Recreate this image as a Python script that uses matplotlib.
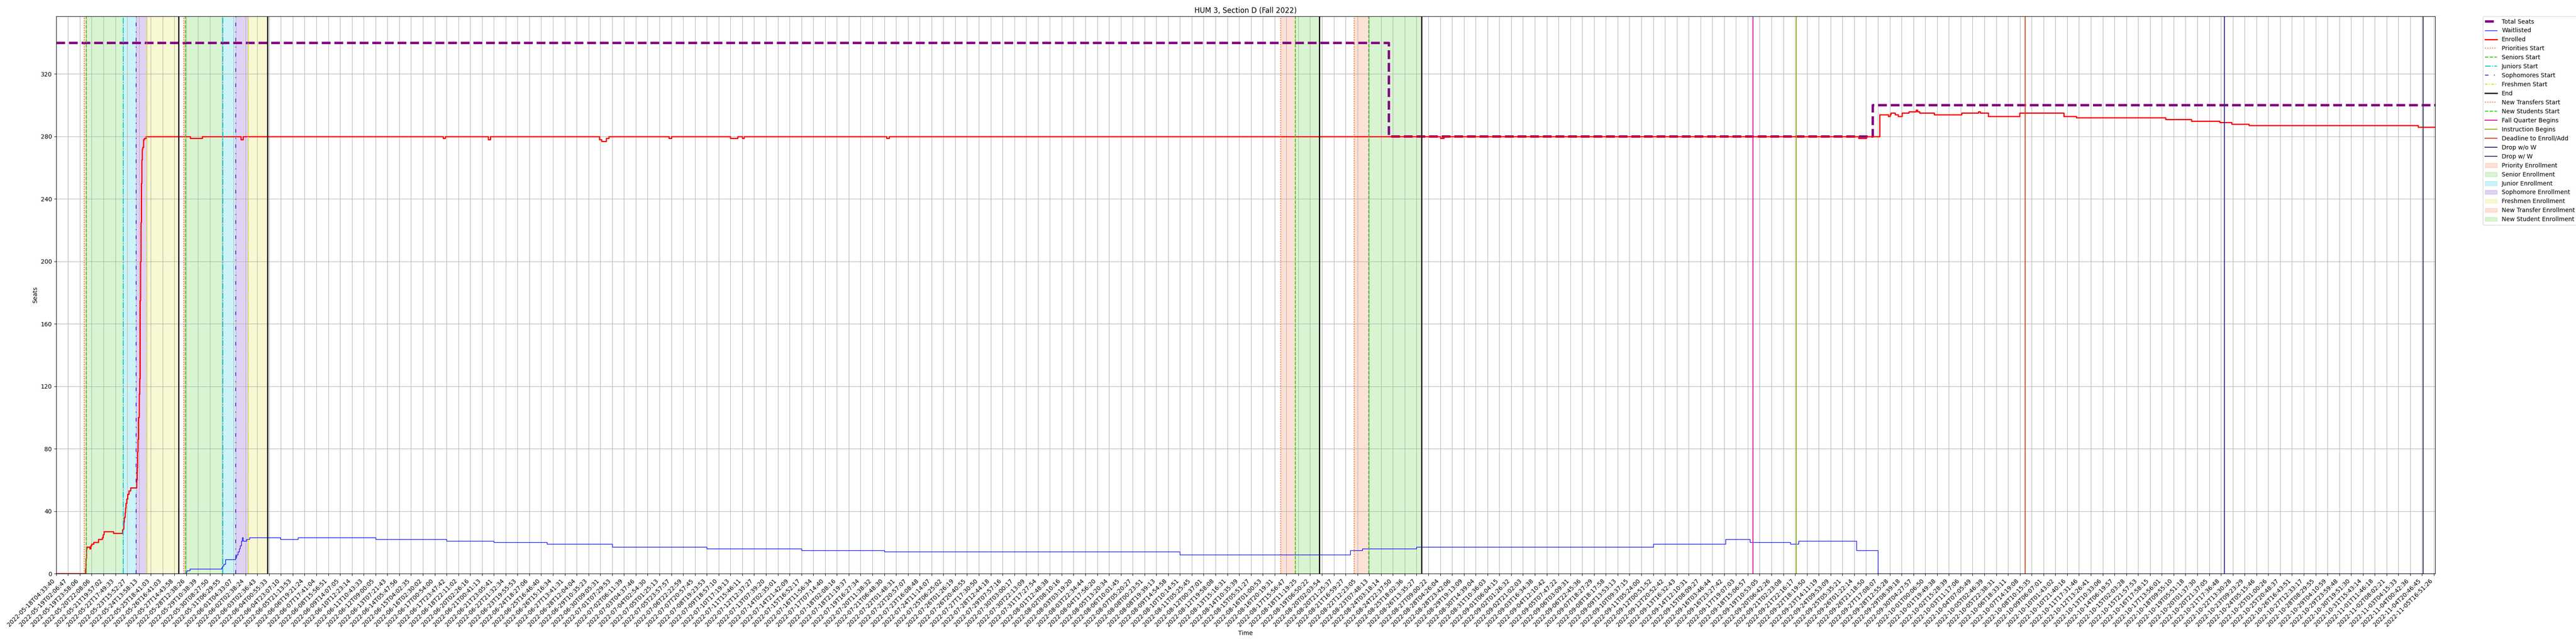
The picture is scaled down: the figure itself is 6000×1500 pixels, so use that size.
import numpy as np
import pandas as pd
import matplotlib
matplotlib.use('Agg')
import matplotlib.pyplot as plt

# x axis: one tick every 100 samples, labelled with the sample's timestamp
SAMPLES_PER_TICK = 100
tick_labels = [
    '2022-05-18T04:33:40', '2022-05-19T02:06:47', '2022-05-19T23:58:06', '2022-05-20T22:08:06',
    '2022-05-21T19:57:02', '2022-05-22T17:49:33', '2022-05-23T15:52:27', '2022-05-24T13:58:13',
    '2022-05-25T18:41:03', '2022-05-26T16:41:03', '2022-05-27T14:43:58', '2022-05-28T12:38:26',
    '2022-05-29T10:38:39', '2022-05-30T08:27:50', '2022-05-31T06:29:55', '2022-06-01T04:33:07',
    '2022-06-02T02:38:24', '2022-06-03T02:36:43', '2022-06-04T00:55:33', '2022-06-04T23:07:10',
    '2022-06-05T21:13:53', '2022-06-06T19:21:24', '2022-06-07T17:41:04', '2022-06-08T15:56:51',
    '2022-06-09T14:07:05', '2022-06-10T12:23:14', '2022-06-11T10:43:33', '2022-06-12T09:00:05',
    '2022-06-13T07:21:43', '2022-06-14T05:47:56', '2022-06-15T04:02:35', '2022-06-16T02:30:02',
    '2022-06-17T00:54:00', '2022-06-17T23:47:42', '2022-06-18T22:11:02', '2022-06-20T02:26:16',
    '2022-06-21T00:41:13', '2022-06-21T23:05:41', '2022-06-22T21:32:34', '2022-06-23T19:55:53',
    '2022-06-24T18:27:06', '2022-06-25T16:46:40', '2022-06-26T15:16:34', '2022-06-27T13:41:31',
    '2022-06-28T12:04:04', '2022-06-29T10:35:23', '2022-06-30T09:05:31', '2022-07-01T07:29:53',
    '2022-07-02T06:11:39', '2022-07-03T04:37:46', '2022-07-04T02:54:30', '2022-07-05T01:25:13',
    '2022-07-05T23:57:57', '2022-07-06T22:22:59', '2022-07-07T20:57:45', '2022-07-08T19:23:53',
    '2022-07-09T18:57:10', '2022-07-10T17:19:13', '2022-07-11T15:46:11', '2022-07-12T12:37:27',
    '2022-07-13T07:39:20', '2022-07-14T02:35:01', '2022-07-14T21:42:09', '2022-07-15T16:52:17',
    '2022-07-16T11:56:34', '2022-07-17T07:14:40', '2022-07-18T02:08:16', '2022-07-18T21:19:37',
    '2022-07-19T16:27:34', '2022-07-20T11:38:32', '2022-07-21T06:48:30', '2022-07-22T01:48:31',
    '2022-07-22T20:57:07', '2022-07-23T16:08:48', '2022-07-24T11:14:07', '2022-07-25T06:25:02',
    '2022-07-26T01:26:19', '2022-07-26T20:40:55', '2022-07-27T17:30:50', '2022-07-28T12:44:18',
    '2022-07-29T07:57:16', '2022-07-30T03:00:17', '2022-07-30T22:13:09', '2022-07-31T17:27:54',
    '2022-08-01T12:48:38', '2022-08-02T08:10:16', '2022-08-03T03:19:20', '2022-08-03T22:34:44',
    '2022-08-04T17:56:20', '2022-08-05T13:20:34', '2022-08-06T10:01:45', '2022-08-07T05:20:27',
    '2022-08-08T00:23:51', '2022-08-08T19:39:13', '2022-08-09T14:54:58', '2022-08-10T10:14:51',
    '2022-08-11T05:25:45', '2022-08-12T00:37:01', '2022-08-12T19:58:08', '2022-08-13T15:16:31',
    '2022-08-14T10:35:39', '2022-08-15T05:51:27', '2022-08-16T01:00:53', '2022-08-16T20:19:31',
    '2022-08-17T15:56:47', '2022-08-18T11:19:25', '2022-08-19T06:50:22', '2022-08-20T02:03:54',
    '2022-08-20T21:25:37', '2022-08-21T16:59:27', '2022-08-22T12:23:05', '2022-08-23T07:48:13',
    '2022-08-24T03:18:14', '2022-08-24T22:37:50', '2022-08-25T18:02:36', '2022-08-26T13:35:27',
    '2022-08-27T09:00:22', '2022-08-28T04:26:04', '2022-08-28T23:42:06', '2022-08-29T19:13:09',
    '2022-08-30T14:39:04', '2022-08-31T10:36:03', '2022-09-01T06:04:15', '2022-09-02T01:26:32',
    '2022-09-02T21:02:03', '2022-09-03T16:34:38', '2022-09-04T12:10:42', '2022-09-05T07:47:22',
    '2022-09-06T03:09:31', '2022-09-06T22:45:36', '2022-09-07T18:27:29', '2022-09-08T18:17:58',
    '2022-09-09T13:53:13', '2022-09-10T09:37:15', '2022-09-11T05:24:00', '2022-09-12T00:51:52',
    '2022-09-12T20:52:42', '2022-09-13T16:32:43', '2022-09-14T12:10:31', '2022-09-15T08:09:27',
    '2022-09-16T03:46:44', '2022-09-16T23:27:42', '2022-09-17T19:07:03', '2022-09-18T15:06:57',
    '2022-09-19T10:53:05', '2022-09-20T06:42:26', '2022-09-21T02:23:08', '2022-09-21T22:16:17',
    '2022-09-22T18:19:50', '2022-09-23T14:11:19', '2022-09-24T09:53:09', '2022-09-25T05:35:21',
    '2022-09-26T01:22:14', '2022-09-26T21:18:50', '2022-09-27T17:08:07', '2022-09-28T12:55:28',
    '2022-09-29T08:39:18', '2022-09-30T04:27:57', '2022-10-01T00:06:50', '2022-10-01T19:49:38',
    '2022-10-02T15:28:39', '2022-10-03T11:17:06', '2022-10-04T07:05:49', '2022-10-05T02:46:39',
    '2022-10-05T22:38:31', '2022-10-06T18:33:11', '2022-10-07T14:19:08', '2022-10-08T10:15:35',
    '2022-10-09T06:07:01', '2022-10-10T01:43:02', '2022-10-10T21:40:16', '2022-10-11T17:31:46',
    '2022-10-12T13:26:41', '2022-10-13T10:33:06', '2022-10-14T06:19:57', '2022-10-15T02:03:28',
    '2022-10-15T21:57:53', '2022-10-16T17:58:15', '2022-10-17T13:56:01', '2022-10-18T09:55:10',
    '2022-10-19T05:51:18', '2022-10-20T01:37:30', '2022-10-20T21:37:05', '2022-10-21T17:36:48',
    '2022-10-22T13:30:28', '2022-10-23T09:23:29', '2022-10-24T05:15:46', '2022-10-25T01:00:26',
    '2022-10-25T20:48:37', '2022-10-26T16:43:51', '2022-10-27T12:33:17', '2022-10-28T08:29:55',
    '2022-10-29T04:10:59', '2022-10-29T23:59:48', '2022-10-30T19:51:30', '2022-10-31T15:43:14',
    '2022-11-01T11:46:18', '2022-11-02T08:02:21', '2022-11-03T04:15:33', '2022-11-04T00:42:36',
    '2022-11-04T20:46:45', '2022-11-05T16:51:26',
]
last_sample = 20110

# series: (sample index where value changes, new value)
seats_idx = [0, 11265, 15358, last_sample]
seats_val = [340, 280, 300, 300]

enrolled_idx = [0, 246, 250, 255, 260, 285, 290, 297, 315, 355, 390, 397, 403, 485, 560, 566,
                570, 575, 580, 585, 590, 595, 605, 615, 630, 678, 682, 686, 690, 695, 700, 703,
                707, 710, 713, 716, 720, 723, 727, 732, 738, 745, 760, 1133, 1235, 1562, 1580,
                3270, 3290, 3650, 3670, 4590, 4610, 4650, 4670, 5180, 5200, 5700, 5760,
                5800, 5815, 7020, 7040, 11700, 11730, 15238, 15303,
                15416, 15488, 15500, 15510, 15546, 15572, 15604, 15663, 15724, 15732, 15753,
                15877, 16107, 16250, 16265, 16333, 16596, 16972, 17076, 17830, 18050, 18290,
                18390, 18537, 19966, last_sample]
enrolled_val = [0, 3, 10, 16, 17, 16, 18, 19, 20, 22, 23, 25, 27, 26, 28, 29,
                33, 36, 39, 42, 45, 48, 51, 53, 55, 60, 68, 78, 86, 100, 115, 125,
                150, 175, 200, 225, 250, 265, 272, 273, 278, 279, 280, 279, 280, 278, 280,
                279, 280, 278, 280, 278, 277, 279, 280, 279, 280, 279, 280,
                279, 280, 279, 280, 279, 280, 279, 280,
                294, 293, 294, 295, 294, 293, 295, 296, 297, 296, 295,
                294, 295, 296, 295, 293, 295, 293, 292, 291, 290, 289,
                288, 287, 286, 286]

waitlist_idx = [0, 1100, 1105, 1130, 1397, 1405, 1415, 1430, 1515, 1520, 1525, 1535, 1545, 1555,
                1565, 1572, 1578, 1610, 1635, 1895, 2045, 2700, 3300, 3700, 4150, 4700, 5500,
                6300, 7000, 9500, 10940, 11040, 11500, 13500, 14110, 14320, 14660, 14730,
                15220, 15290, 15400, last_sample]
waitlist_val = [0, 1, 2, 3, 4, 5, 6, 9, 10, 11, 12, 14, 16, 18,
                21, 23, 21, 22, 23, 22, 23, 22, 21, 20, 19, 17, 16,
                15, 14, 12, 15, 16, 17, 19, 22, 20, 19, 21,
                15, 15, 0, 0]

# event timestamps
priorities_start = ['2022-05-20T08:00', '2022-05-28T08:00']
seniors_start = ['2022-05-20T11:45', '2022-05-28T11:30']
juniors_start = ['2022-05-23T08:20', '2022-05-31T08:15']
sophomores_start = ['2022-05-24T08:28', '2022-06-01T08:18']
freshmen_start = ['2022-05-25T08:55', '2022-06-02T08:10']
pass_end = ['2022-05-27T22:25', '2022-06-03T21:36']
new_transfers_start = ['2022-08-17T06:08', '2022-08-22T07:10']
new_students_start = ['2022-08-18T06:27', '2022-08-23T07:10']
new_end = ['2022-08-19T21:50', '2022-08-26T22:00']
fall_quarter_begins = '2022-09-19T00:00'
instruction_begins = '2022-09-22T00:00'
deadline_enroll_add = '2022-10-07T23:00'
drop_without_w = '2022-10-21T23:30'
drop_with_w = '2022-11-04T22:45'

tick_times = pd.to_datetime(tick_labels).astype('int64').to_numpy()
tick_pos = np.arange(len(tick_labels)) * SAMPLES_PER_TICK


def pos(ts):
    t = pd.to_datetime(ts).value
    return float(np.interp(t, tick_times, tick_pos))


fig, ax = plt.subplots(figsize=(60, 15), dpi=100)
fig.subplots_adjust(left=0.0218, right=0.9453, bottom=0.1093, top=0.9747)

ax.plot(seats_idx, seats_val, drawstyle='steps-post', color='purple', linestyle='--',
        linewidth=4, label='Total Seats')
ax.plot(waitlist_idx, waitlist_val, drawstyle='steps-post', color='blue', linewidth=1,
        label='Waitlisted')
ax.plot(enrolled_idx, enrolled_val, drawstyle='steps-post', color='red', linewidth=2,
        label='Enrolled')

c_pri, c_sen, c_jun, c_sop, c_fre = '#f06a33', '#3cc81a', '#00c8d8', '#6a22d0', '#dede20'
ls_sop = (0, (4, 6, 1, 6))
ls_fre = (0, (3, 1.5, 1, 1.5))

for i in range(2):
    lab = (i == 0)
    ax.axvline(pos(priorities_start[i]), color=c_pri, linestyle=':', linewidth=1.5,
               label='Priorities Start' if lab else None)
    ax.axvline(pos(seniors_start[i]), color=c_sen, linestyle='--', linewidth=1.5,
               label='Seniors Start' if lab else None)
    ax.axvline(pos(juniors_start[i]), color=c_jun, linestyle='-.', linewidth=1.5,
               label='Juniors Start' if lab else None)
    ax.axvline(pos(sophomores_start[i]), color=c_sop, linestyle=ls_sop, linewidth=1.5,
               label='Sophomores Start' if lab else None)
    ax.axvline(pos(freshmen_start[i]), color=c_fre, linestyle=ls_fre, linewidth=1.5,
               label='Freshmen Start' if lab else None)
    ax.axvline(pos(pass_end[i]), color='black', linewidth=2, label='End' if lab else None)

for i in range(2):
    lab = (i == 0)
    ax.axvline(pos(new_transfers_start[i]), color=c_pri, linestyle=':', linewidth=1.5,
               label='New Transfers Start' if lab else None)
    ax.axvline(pos(new_students_start[i]), color=c_sen, linestyle='--', linewidth=1.5,
               label='New Students Start' if lab else None)
    ax.axvline(pos(new_end[i]), color='black', linewidth=2)

ax.axvline(pos(fall_quarter_begins), color='#e0109a', linewidth=1.5, label='Fall Quarter Begins')
ax.axvline(pos(instruction_begins), color='#8cb414', linewidth=1.5, label='Instruction Begins')
ax.axvline(pos(deadline_enroll_add), color='#d8401c', linewidth=1.5, label='Deadline to Enroll/Add')
ax.axvline(pos(drop_without_w), color='#2c2c8c', linewidth=1.5, label='Drop w/o W')
ax.axvline(pos(drop_with_w), color='#2c3c5c', linewidth=1.5, label='Drop w/ W')

for i in range(2):
    lab = (i == 0)
    ax.axvspan(pos(priorities_start[i]), pos(seniors_start[i]), color=c_pri, alpha=0.2,
               label='Priority Enrollment' if lab else None)
    ax.axvspan(pos(seniors_start[i]), pos(juniors_start[i]), color=c_sen, alpha=0.2,
               label='Senior Enrollment' if lab else None)
    ax.axvspan(pos(juniors_start[i]), pos(sophomores_start[i]), color=c_jun, alpha=0.2,
               label='Junior Enrollment' if lab else None)
    ax.axvspan(pos(sophomores_start[i]), pos(freshmen_start[i]), color=c_sop, alpha=0.2,
               label='Sophomore Enrollment' if lab else None)
    ax.axvspan(pos(freshmen_start[i]), pos(pass_end[i]), color=c_fre, alpha=0.2,
               label='Freshmen Enrollment' if lab else None)
for i in range(2):
    lab = (i == 0)
    ax.axvspan(pos(new_transfers_start[i]), pos(new_students_start[i]), color=c_pri, alpha=0.2,
               label='New Transfer Enrollment' if lab else None)
    ax.axvspan(pos(new_students_start[i]), pos(new_end[i]), color=c_sen, alpha=0.2,
               label='New Student Enrollment' if lab else None)

ax.set_xticks(tick_pos)
ax.set_xticklabels(tick_labels, rotation=45, ha='right')
ax.set_xlim(0, last_sample)
ax.set_ylim(bottom=0)
ax.set_yticks(np.arange(0, 321, 40))
ax.grid(True)

ax.set_title('HUM 3, Section D (Fall 2022)')
ax.set_xlabel('Time')
ax.set_ylabel('Seats')
ax.legend(loc='upper left', bbox_to_anchor=(1.02, 1), borderaxespad=0)

plt.savefig('out.png')
